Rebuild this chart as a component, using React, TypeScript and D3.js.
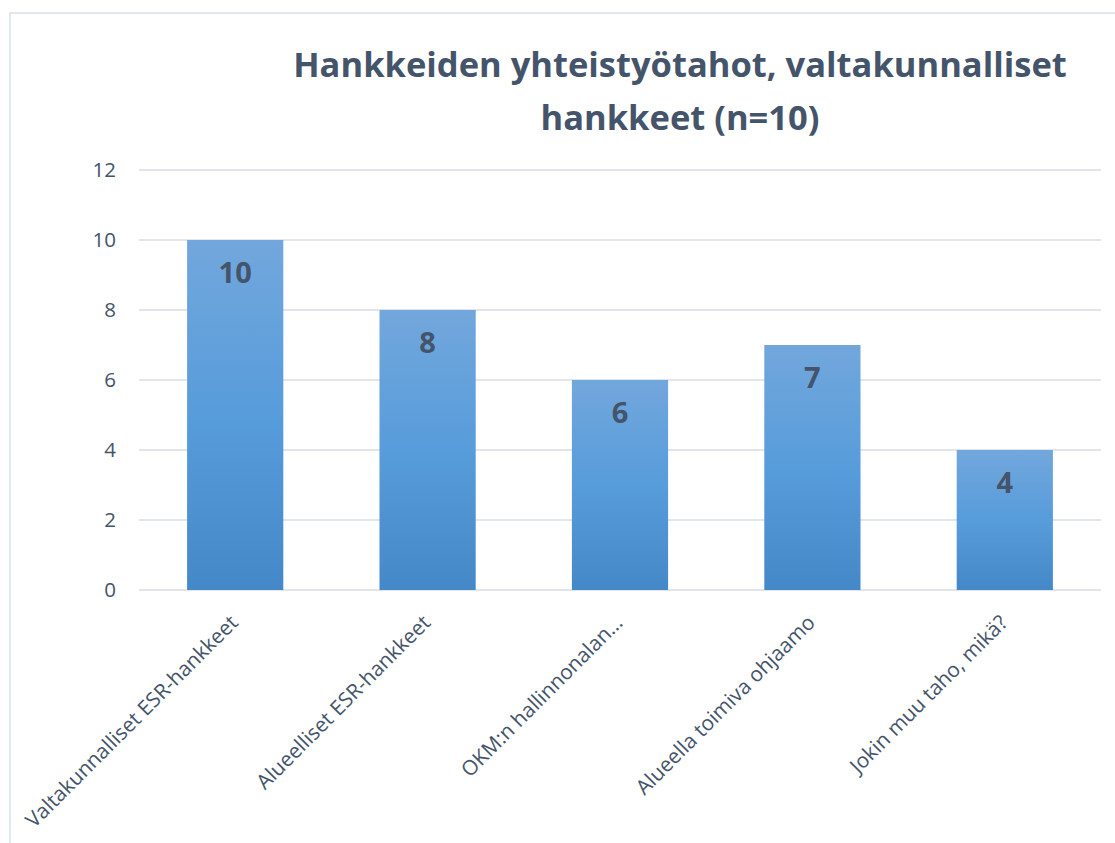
import React from "react";
import * as d3 from "d3";

const categories = [
  "Valtakunnalliset ESR-hankkeet",
  "Alueelliset ESR-hankkeet",
  "OKM:n hallinnonalan…",
  "Alueella toimiva ohjaamo",
  "Jokin muu taho, mikä?",
];
const values = [10, 8, 6, 7, 4];
const yTicks = [0, 2, 4, 6, 8, 10, 12];
const titleLines = ["Hankkeiden yhteistyötahot, valtakunnalliset", "hankkeet (n=10)"];

const W = 1115;
const H = 843;
const TEXT = "#44546A";
const GRID = "#D9DDE4";
const FONT = "'Open Sans', 'DejaVu Sans', sans-serif";

export default function App() {
  const x = d3
    .scaleBand<string>()
    .domain(categories)
    .range([139, 1101])
    .paddingInner(0.5)
    .paddingOuter(0.25);
  const y = d3.scaleLinear().domain([0, 12]).range([590, 170]);

  return (
    <svg
      width={W}
      height={H}
      style={{ position: "absolute", left: 0, top: 0, display: "block", background: "#fff" }}
      fontFamily={FONT}
    >
      <defs>
        <linearGradient id="barGrad" x1="0" y1="0" x2="0" y2="1">
          <stop offset="0%" stopColor="#72A7DC" />
          <stop offset="50%" stopColor="#579CDB" />
          <stop offset="100%" stopColor="#4588C8" />
        </linearGradient>
      </defs>
      <rect x={0} y={0} width={W} height={H} fill="#fff" />
      <rect x={10} y={13} width={W + 50} height={H + 50} fill="#fff" stroke="#D9DEE7" strokeWidth={1.5} />

      {titleLines.map((t, i) => (
        <text
          key={t}
          x={680}
          y={77 + i * 53}
          textAnchor="middle"
          fontWeight="bold"
          fontSize={34.5}
          fill={TEXT}
        >
          {t}
        </text>
      ))}

      {yTicks.map((t) => (
        <g key={t}>
          <line x1={139} x2={1101} y1={y(t)} y2={y(t)} stroke={GRID} strokeWidth={1.5} />
          <text x={116} y={y(t)} dy="0.36em" textAnchor="end" fontSize={20.5} fill={TEXT}>
            {t}
          </text>
        </g>
      ))}

      {categories.map((c, i) => {
        const bx = x(c)!;
        const cx = bx + x.bandwidth() / 2;
        return (
          <g key={c}>
            <rect
              x={bx}
              y={y(values[i])}
              width={x.bandwidth()}
              height={y(0) - y(values[i])}
              fill="url(#barGrad)"
            />
            <text
              x={cx}
              y={y(values[i]) + 43}
              textAnchor="middle"
              fontWeight="bold"
              fontSize={29}
              fill={TEXT}
            >
              {values[i]}
            </text>
            <text
              transform={`translate(${cx + 4},${624}) rotate(-45)`}
              textAnchor="end"
              fontSize={20.7}
              fill={TEXT}
            >
              {c}
            </text>
          </g>
        );
      })}
    </svg>
  );
}
